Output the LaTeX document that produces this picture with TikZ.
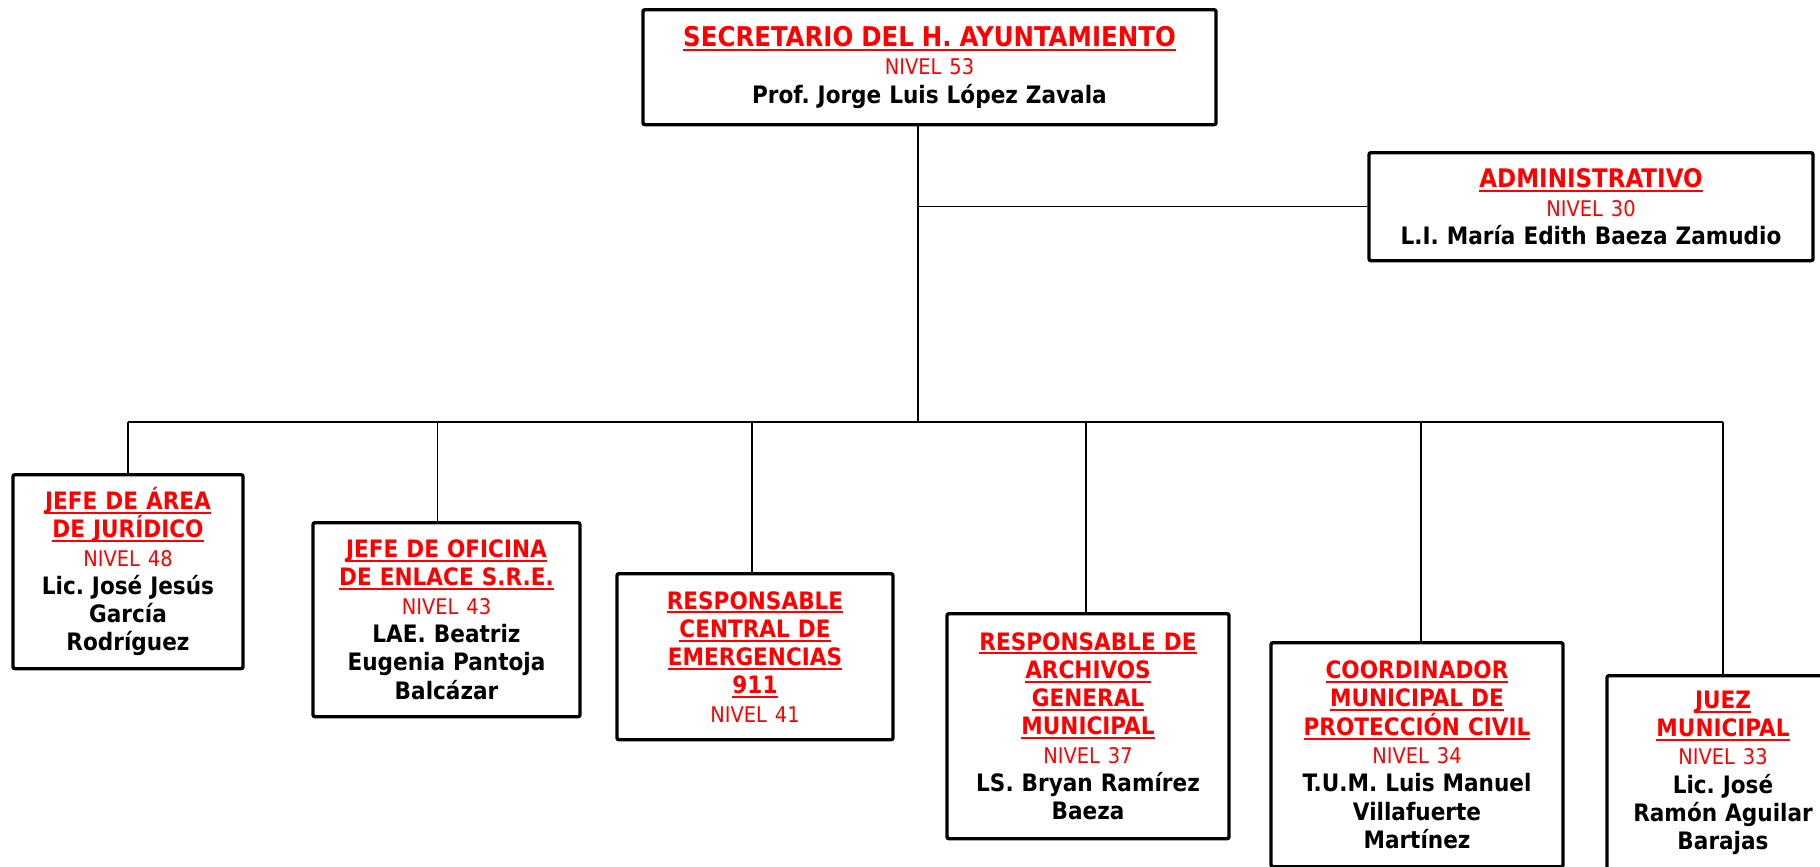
\documentclass[tikz,border=0pt]{standalone}
\usepackage{fontspec}
\setmainfont{DejaVu Sans Condensed}
\usetikzlibrary{positioning}
\frenchspacing
\newsavebox{\pubox}
\newcommand{\pu}[1]{\leavevmode{\color{red}\sbox{\pubox}{#1}\rlap{\rule[-2.2pt]{\wd\pubox}{1pt}}\usebox{\pubox}}}
\newcommand{\niv}[1]{{\color{red}\mdseries\fontsize{10.8}{14.15}\selectfont NIVEL #1}}

\begin{document}
\begin{tikzpicture}[x=0.5pt,y=-0.5pt,
  every node/.style={draw,line width=1.7pt,rounded corners=1pt,inner sep=0pt,align=center,anchor=north,
    font=\bfseries\fontsize{12}{14.15}\selectfont},
  lnk/.style={line width=0.6pt}]
\useasboundingbox (0,0) rectangle (1820,867);
\node[text width=286.5pt,minimum height=57.5pt] (sec) at (929.5,8) {{\fontsize{13.6}{14.15}\selectfont\pu{SECRETARIO DEL H. AYUNTAMIENTO}}\\\niv{53}\\Prof. Jorge Luis López Zavala};
\node[text width=222pt,minimum height=54pt] (adm) at (1591,151) {{\fontsize{12.8}{14.15}\selectfont\pu{ADMINISTRATIVO}}\\\niv{30}\\L.I. María Edith Baeza Zamudio};
\node[text width=115pt,minimum height=97pt] (jur) at (128,473) {\pu{JEFE DE ÁREA}\\\pu{DE JURÍDICO}\\\niv{48}\\Lic. José Jesús\\García\\Rodríguez};
\node[text width=133.5pt,minimum height=97pt] (sre) at (446.5,521) {\pu{JEFE DE OFICINA}\\\pu{DE ENLACE S.R.E.}\\\niv{43}\\LAE. Beatriz\\Eugenia Pantoja\\Balcázar};
\node[text width=138pt,minimum height=83pt] (eme) at (755,572) {\pu{RESPONSABLE}\\\pu{CENTRAL DE}\\\pu{EMERGENCIAS}\\\pu{911}\\\niv{41}};
\node[text width=141pt,minimum height=112.5pt] (arc) at (1088,612) {\pu{RESPONSABLE DE}\\\pu{ARCHIVOS}\\\pu{GENERAL}\\\pu{MUNICIPAL}\\\niv{37}\\LS. Bryan Ramírez\\Baeza};
\node[text width=146pt,minimum height=112pt] (pci) at (1417,641) {\pu{COORDINADOR}\\\pu{MUNICIPAL DE}\\\pu{PROTECCIÓN CIVIL}\\\niv{34}\\T.U.M. Luis Manuel\\Villafuerte\\Martínez};
\node[text width=116pt,minimum height=97pt] (jue) at (1723,674) {\pu{JUEZ}\\\pu{MUNICIPAL}\\\niv{33}\\Lic. José\\Ramón Aguilar\\Barajas};
\coordinate (bus) at (918,422);
\draw[lnk] (sec.south -| bus) -- (bus);
\draw[lnk] (adm.west) -- (adm.west -| bus);
\draw[lnk] (jur.north |- bus) -- (jue.north |- bus);
\foreach \b/\dx in {jur/0,sre/-4.5,eme/-1.5,arc/-1,pci/2,jue/0}
  \draw[lnk] ([xshift=\dx pt]\b.north) -- ([xshift=\dx pt]\b.north |- bus);
\end{tikzpicture}
\end{document}
